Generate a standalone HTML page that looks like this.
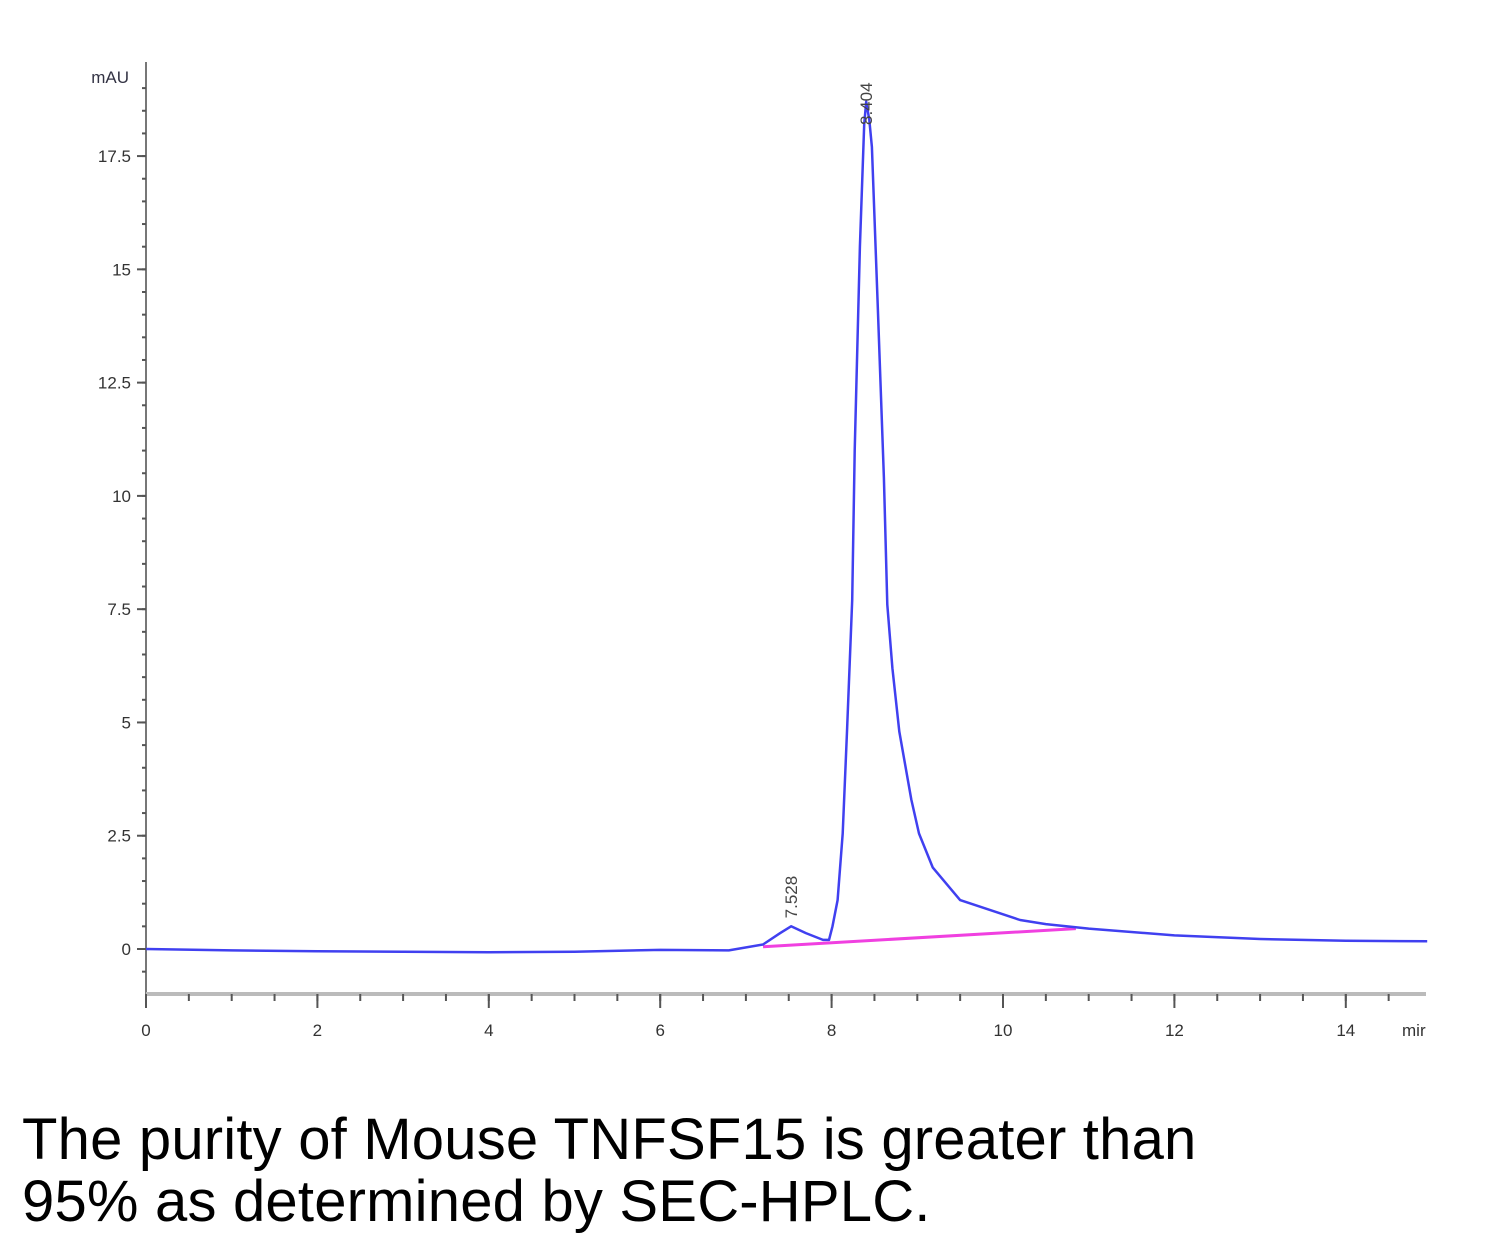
<!DOCTYPE html>
<html><head><meta charset="utf-8"><style>
body{margin:0;background:#fff;width:1500px;height:1252px;overflow:hidden;font-family:"Liberation Sans",sans-serif}
#cap{position:absolute;left:22px;top:1109px;font-size:58px;line-height:62px;color:#000;letter-spacing:0.2px}
</style></head><body>
<svg id="chart" width="1500" height="1100" style="position:absolute;left:0;top:0"></svg>
<div id="cap">The purity of Mouse TNFSF15 is greater than<br>95% as determined by SEC-HPLC.</div>
<script>
const times=[0,1,2,3,4,5,6,6.8,7.2,7.4,7.528,7.7,7.9,7.97,8.01,8.07,8.13,8.18,8.24,8.27,8.33,8.38,8.404,8.44,8.47,8.54,8.61,8.65,8.71,8.79,8.93,9.02,9.18,9.5,10.2,10.5,11,12,13,14,14.95];
const signal=[0,-0.03,-0.05,-0.06,-0.07,-0.06,-0.02,-0.03,0.1,0.35,0.5,0.35,0.2,0.2,0.5,1.08,2.55,4.8,7.7,11.0,15.5,18.2,18.7,18.3,17.7,14.1,10.4,7.6,6.2,4.8,3.3,2.55,1.8,1.08,0.64,0.55,0.45,0.3,0.22,0.18,0.17];
const baseT=[7.2,10.85];
const baseV=[0.05,0.45];
const yTicks=[0,2.5,5,7.5,10,12.5,15,17.5];
const yLabels=["0","2.5","5","7.5","10","12.5","15","17.5"];
const xTicks=[0,2,4,6,8,10,12,14];
const peakT=[7.528,8.404];
const peakV=[0.5,18.7];
const peakLabels=["7.528","8.404"];
const NS="http://www.w3.org/2000/svg";
const svg=document.getElementById('chart');
const X=t=>146+t*85.7;
const Y=v=>949-v*45.31;
function el(tag,a,parent){const e=document.createElementNS(NS,tag);for(const k in a)e.setAttribute(k,a[k]);(parent||svg).appendChild(e);return e;}
let e=el('line',{x1:146,y1:62,x2:146,y2:994,stroke:'#777','stroke-width':2});


e=el('line',{x1:146,y1:994,x2:1426,y2:994,stroke:'#bbb','stroke-width':4});


for(let v=-1;v<=19;v+=0.5){const y=Y(v);if(y<62||y>994)continue;el('line',{x1:142,y1:y,x2:146,y2:y,stroke:'#555','stroke-width':2});}
yTicks.forEach((v,i)=>{const y=Y(v);el('line',{x1:137,y1:y,x2:146,y2:y,stroke:'#555','stroke-width':2});
const t=el('text',{x:131,y:y+6,'text-anchor':'end','font-size':17,fill:'#333','font-family':'Liberation Sans Narrow, Liberation Sans, sans-serif'});t.textContent=yLabels[i];

});
let u=el('text',{x:129,y:83,'text-anchor':'end','font-size':17,fill:'#334','font-family':'Liberation Sans Narrow, Liberation Sans, sans-serif'});u.textContent='mAU';


for(let t=0;t<=14.9;t+=0.5){const x=X(t);el('line',{x1:x,y1:994,x2:x,y2:1001,stroke:'#555','stroke-width':2});}
xTicks.forEach(t=>{const x=X(t);el('line',{x1:x,y1:994,x2:x,y2:1008,stroke:'#555','stroke-width':2});
const l=el('text',{x:x,y:1036,'text-anchor':'middle','font-size':17,fill:'#333','font-family':'Liberation Sans Narrow, Liberation Sans, sans-serif'});l.textContent=String(t);

});
u=el('text',{x:1402,y:1036,'font-size':17,fill:'#333'});u.textContent='mir';


e=el('line',{x1:X(baseT[0]),y1:Y(baseV[0]),x2:X(baseT[1]),y2:Y(baseV[1]),stroke:'#f040e0','stroke-width':3});


const d=times.map((t,i)=>(i?'L':'M')+X(t).toFixed(1)+','+Y(signal[i]).toFixed(1)).join(' ');
e=el('path',{d:d,fill:'none',stroke:'#4040f0','stroke-width':2.5,'stroke-linejoin':'round'});


peakT.forEach((t,i)=>{const x=X(t);const y=Math.max(Y(peakV[i])-8,125);
const l=el('text',{x:0,y:0,'font-size':17,fill:'#444',transform:`translate(${x+6},${y}) rotate(-90)`});l.textContent=peakLabels[i];

});
</script>
</body></html>
